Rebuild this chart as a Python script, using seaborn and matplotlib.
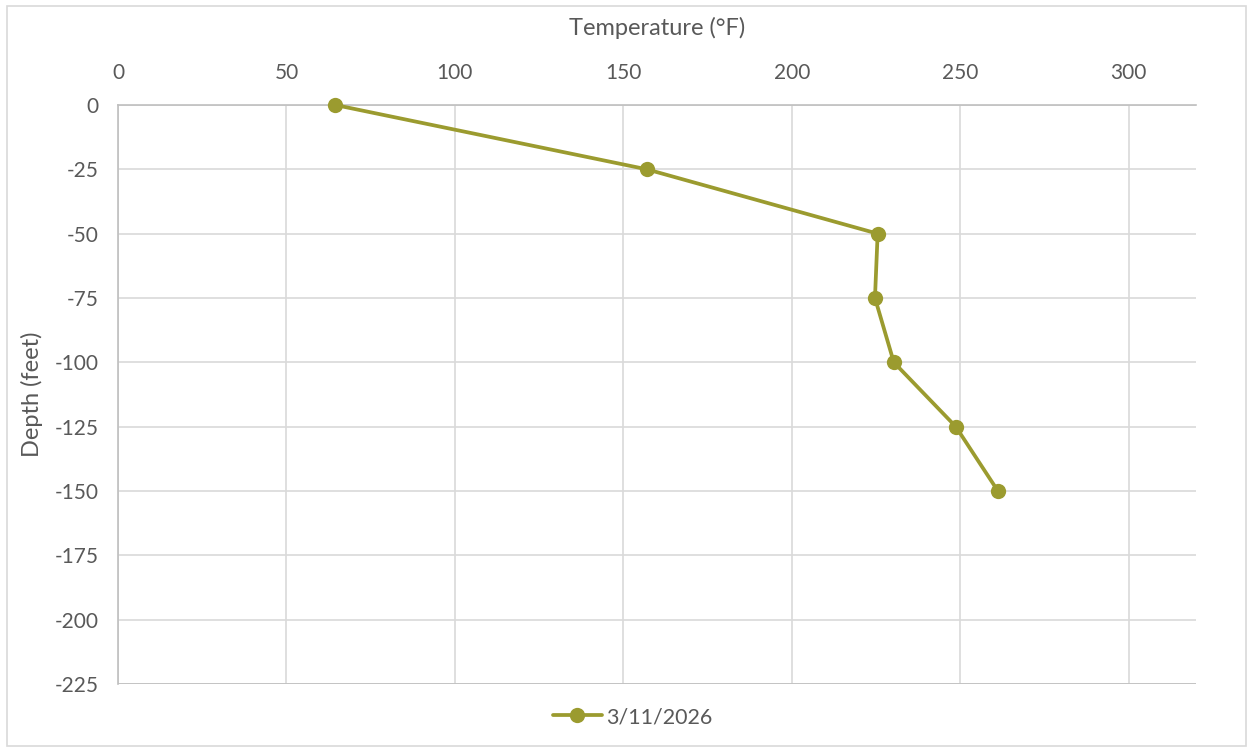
import matplotlib
matplotlib.use("Agg")
import matplotlib.pyplot as plt
import seaborn as sns
import pandas as pd

# Temperature profile by depth
depth_ft = [0, -25, -50, -75, -100, -125, -150]
temperature_f = [64.5, 157, 225.5, 224.7, 230.3, 248.7, 261.2]
series_label = "3/11/2026"

x_ticks = [0, 50, 100, 150, 200, 250, 300]
y_ticks = [0, -25, -50, -75, -100, -125, -150, -175, -200, -225]

line_color = "#9B9B2F"
text_color = "#595959"
grid_color = "#D9D9D9"

sns.set_theme(style="white")
plt.rcParams["font.family"] = ["Lato", "DejaVu Sans"]
plt.rcParams["axes.unicode_minus"] = False

df = pd.DataFrame({"Temperature": temperature_f, "Depth": depth_ft,
                   "Date": series_label})

fig = plt.figure(figsize=(12.53, 7.5), dpi=100)
ax = fig.add_axes([0.0942, 0.088, 0.8603, 0.772])

sns.lineplot(data=df, x="Temperature", y="Depth", sort=False, ax=ax,
             color=line_color, linewidth=2.7, marker="o", markersize=11,
             markeredgewidth=0, label=series_label, zorder=3)
# keep the surface marker whole where it sits on the top edge
for ln in ax.lines:
    ln.set_clip_on(False)
    ln.set_zorder(5)

ax.set_xlim(0, 320)
ax.set_ylim(-225, 0)
ax.set_xticks(x_ticks)
ax.set_yticks(y_ticks)
ax.xaxis.tick_top()
ax.xaxis.set_label_position("top")
ax.set_xlabel("Temperature (°F)", fontsize=17, color=text_color, labelpad=20)
ax.set_ylabel("Depth (feet)", fontsize=17, color=text_color, labelpad=8)
ax.tick_params(axis="x", length=0, labelsize=15, labelcolor=text_color, pad=16)
ax.tick_params(axis="y", length=0, labelsize=15, labelcolor=text_color, pad=14)

ax.grid(True, color=grid_color, linewidth=1.2)
ax.set_axisbelow(True)
for side in ("right", "bottom"):
    ax.spines[side].set_visible(False)
ax.spines["left"].set_color("#BFBFBF")
ax.spines["top"].set_color("#BFBFBF")
ax.spines["left"].set_linewidth(1.2)
ax.spines["top"].set_linewidth(1.2)
# bottom boundary rule
ax.axhline(-225, color="#BFBFBF", linewidth=1.2, zorder=1)

ax.legend_.remove()
handles, labels = ax.get_legend_handles_labels()
fig.legend(handles, labels, loc="center", bbox_to_anchor=(0.505, 0.044),
           frameon=False, fontsize=15.5, labelcolor=text_color,
           handlelength=2.3, handletextpad=0.2)

# outer chart border
fig.add_artist(plt.Rectangle((0.0056, 0.005), 0.989, 0.987,
                             transform=fig.transFigure, fill=False,
                             edgecolor="#D9D9D9", linewidth=1.2))

fig.savefig("out.png", dpi=100)
